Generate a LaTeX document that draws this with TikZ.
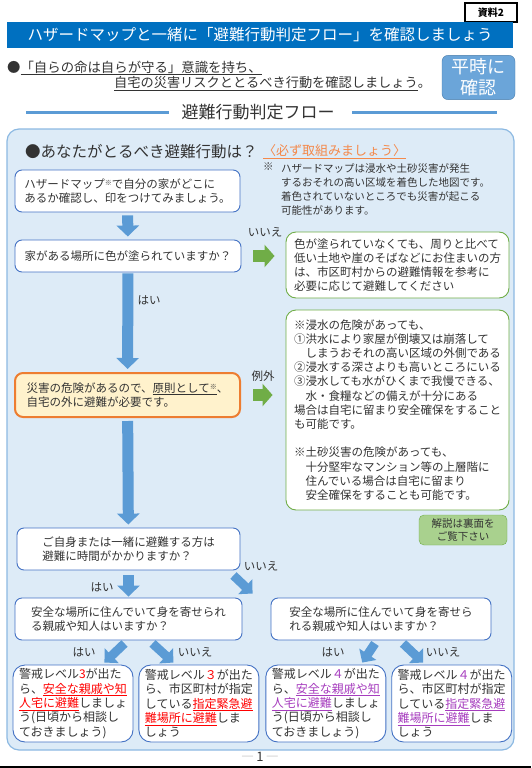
\documentclass[tikz,border=0pt]{standalone}
\usepackage{fontspec}
\setmainfont{Noto Sans CJK JP}
\usepackage{tikz}
\usetikzlibrary{arrows.meta,calc,positioning}
\definecolor{ink}{HTML}{333333}
\definecolor{navy}{HTML}{0070C0}
\definecolor{sky}{HTML}{5B9BD5}
\definecolor{panel}{HTML}{DDEBF7}
\definecolor{rim}{HTML}{4472C4}
\definecolor{leaf}{HTML}{70AD47}
\definecolor{orange}{HTML}{ED7D31}
\definecolor{cream}{HTML}{FFF2CC}
\definecolor{mint}{HTML}{A9D18E}
\definecolor{alert}{HTML}{FF0000}
\definecolor{violet}{HTML}{A63CBE}
\definecolor{tangerine}{HTML}{F4894B}
\newcommand\kome{\raisebox{2.5pt}{\scriptsize ※}}
\newcommand\bodyfont{\fontsize{11.5}{14.2}\selectfont}

\begin{document}
\begin{tikzpicture}[x=1pt,y=-1pt,
  box/.style={draw=rim,fill=white,rounded corners=7pt,line width=0.9pt,align=left,font=\bodyfont,text=ink,inner sep=0pt},
  greenbox/.style={box,draw=leaf,rounded corners=10pt},
  alertbox/.style={box,draw=orange,fill=cream,line width=2pt,rounded corners=8pt},
  levelbox/.style={box,rounded corners=12pt,minimum width=120pt,minimum height=77pt,font=\fontsize{12}{14.3}\selectfont},
  barrow/.style={sky,line width=11pt,-{Triangle[length=11pt,width=22pt]}},
  garrow/.style={leaf,line width=12pt,-{Triangle[length=10pt,width=22pt]}},
  darrow/.style={sky,line width=9pt,-{Triangle[length=10pt,width=20pt]}},
  tag/.style={font=\bodyfont,text=ink},
  rule/.style={sky,line width=3pt}]
\useasboundingbox (0,0) rectangle (531,768);
% header
\node[draw=black,line width=1.3pt,minimum width=52pt,minimum height=19pt,font=\fontsize{10}{12}\selectfont\bfseries] (doc) at (491,12.5) {資料2};
\node[fill=navy,minimum width=506pt,minimum height=26pt,text=white,font=\fontsize{15.5}{18}\selectfont] (title) at (260,35) {ハザードマップと一緒に「避難行動判定フロー」を確認しましょう};
\node[anchor=west,inner sep=0pt,text=ink,font=\fontsize{13.4}{16}\selectfont] (motto) at (7,68) {●\underline{「自らの命は自らが守る」意識を持ち、}};
\node[anchor=west,inner sep=0pt,text=ink,font=\fontsize{13.2}{16}\selectfont] (risk) at (114,84) {\underline{自宅の災害リスクととるべき行動を確認しましょう}。};
\node[fill=sky!90!white,draw=sky!80!black,rounded corners=6pt,minimum width=73pt,minimum height=43pt,text=white,align=center,font=\fontsize{18}{21}\selectfont] (usual) at (478.5,77.5) {平時に\\確認};
\node[font=\fontsize{17}{20}\selectfont,text=ink] (flow) at (258,112) {避難行動判定フロー};
\draw[rule] (26,112) -- ([xshift=-9pt]flow.west);
\draw[rule] ([xshift=14pt]flow.east) -- (497,112);
% panel
\draw[draw=sky!70,fill=panel,line width=1.2pt,rounded corners=12pt] (7,129) rectangle (514,750);
\node[anchor=west,inner sep=0pt,text=ink,font=\fontsize{15.5}{18}\selectfont] (ask) at (25,152) {●あなたがとるべき避難行動は？};
\node[right=5pt of ask,inner sep=0pt,text=tangerine,font=\fontsize{13}{16}\selectfont] (must) {\underline{〈必ず取組みましょう〉}};
\node[anchor=north west,inner sep=0pt,text=ink,font=\fontsize{10.5}{14}\selectfont] (kome) at (263,163) {※};
\node[anchor=north west,inner sep=0pt,align=left,text=ink,font=\fontsize{10.5}{14}\selectfont] (hint) at (281,163) {ハザードマップは浸水や土砂災害が発生\\するおそれの高い区域を着色した地図です。\\着色されていないところでも災害が起こる\\可能性があります。};
% flow boxes
\node[box,minimum width=225pt,minimum height=42pt] (map) at (127.5,191) {ハザードマップ\kome で自分の家がどこに\\あるか確認し、印をつけてみましょう。};
\node[box,minimum width=226pt,minimum height=32pt] (home) at (128,256) {家がある場所に色が塗られていますか？};
\node[greenbox,minimum width=223pt,minimum height=66pt] (nocolor) at (397.5,265) {色が塗られていなくても、周りと比べて\\低い土地や崖のそばなどにお住まいの方\\は、市区町村からの避難情報を参考に\\必要に応じて避難してください};
\node[alertbox,minimum width=225pt,minimum height=44pt] (leave) at (127.5,395) {災害の危険があるので、\underline{原則として\kome}、\\自宅の外に避難が必要です。};
\node[greenbox,minimum width=223pt,minimum height=200pt] (except) at (397.5,410) {※浸水の危険があっても、\\①洪水により家屋が倒壊又は崩落して\\　しまうおそれの高い区域の外側である\\②浸水する深さよりも高いところにいる\\③浸水しても水がひくまで我慢できる、\\　水・食糧などの備えが十分にある\\場合は自宅に留まり安全確保をすること\\も可能です。\\[14.2pt]※土砂災害の危険があっても、\\　十分堅牢なマンション等の上層階に\\　住んでいる場合は自宅に留まり\\　安全確保をすることも可能です。};
\node[draw=leaf,fill=mint,rounded corners=5pt,minimum width=88pt,minimum height=30pt,align=center,inner sep=0pt,text=ink,font=\fontsize{10.5}{13}\selectfont] (back) at (463,530) {解説は裏面を\\ご覧下さい};
\node[box,minimum width=223pt,minimum height=42pt] (time) at (128.5,549) {ご自身または一緒に避難する方は\\避難に時間がかかりますか？};
\node[box,minimum width=227pt,minimum height=42pt] (kin) at (128.5,619) {安全な場所に住んでいて身を寄せられ\\る親戚や知人はいますか？};
\node[box,minimum width=220pt,minimum height=42pt] (kinb) at (381,619) {安全な場所に住んでいて身を寄せら\\れる親戚や知人はいますか？};
% level boxes
\node[levelbox] (lvthreea) at (73,703.5) {警戒レベル{\color{alert}3}が出た\\ら、{\color{alert}\underline{安全な親戚や知}}\\{\color{alert}\underline{人宅に避難}}しましょ\\う(日頃から相談し\\ておきましょう)};
\node[levelbox,right=5pt of lvthreea] (lvthreeb) {警戒レベル{\color{alert}３}が出た\\ら、市区町村が指定\\している{\color{alert}\underline{指定緊急避}}\\{\color{alert}\underline{難場所に避難}}しま\\しょう};
\node[levelbox,right=6pt of lvthreeb] (lvfoura) {警戒レベル{\color{violet}４}が出た\\ら、{\color{violet}\underline{安全な親戚や知}}\\{\color{violet}\underline{人宅に避難}}しましょ\\う(日頃から相談し\\ておきましょう)};
\node[levelbox,right=5pt of lvfoura] (lvfourb) {警戒レベル{\color{violet}４}が出た\\ら、市区町村が指定\\している{\color{violet}\underline{指定緊急避}}\\{\color{violet}\underline{難場所に避難}}しま\\しょう};
% arrows
\draw[barrow,shorten <=3pt,shorten >=3pt] (map) -- (home);
\draw[barrow,shorten <=1pt,shorten >=3pt] (home) -- (leave);
\draw[barrow,shorten <=3pt,shorten >=3pt] (leave) -- (time);
\draw[barrow,shorten <=5pt,shorten >=1pt] (time) -- (kin);
\draw[garrow,shorten <=12pt,shorten >=11pt] (home.east) -- (home.east -| nocolor.west);
\draw[garrow,shorten <=12pt,shorten >=13pt] (leave.east) -- (leave.east -| except.west);
\draw[darrow] ($(time.south east)+(-7,5)$) -- ($(kinb.north west)+(-18,-4)$);
\draw[darrow] ($(kin.south)+(-4,3)$) -- ($(lvthreea.north east)+(-29,-2)$);
\draw[darrow] ($(kin.south)+(24,3)$) -- ($(lvthreeb.north west)+(35,-2)$);
\draw[darrow] ($(kinb.south)+(-6,3)$) -- ($(lvfoura.north east)+(-24,-2)$);
\draw[darrow] ($(kinb.south)+(22,3)$) -- ($(lvfourb.north west)+(32,-2)$);
% answers
\node[tag] (noa) at (265,232) {いいえ};
\node[tag] (yesa) at (149,300) {はい};
\node[tag] (other) at (263,376) {例外};
\node[tag] (nob) at (261,566) {いいえ};
\node[tag] (yesb) at (102,587) {はい};
\foreach \n/\x/\t in {yesc/84/はい,noc/195/いいえ,yesd/333/はい,nod/443/いいえ}
  \node[tag] (\n) at (\x,652) {\t};
% footer
\node[text=ink,font=\fontsize{13}{15}\selectfont] (page) at (260,757) {{\color{gray!60}―}\,1\,{\color{gray!60}―}};
\draw[line width=2pt] (0,766.5) -- (531,766.5);
\end{tikzpicture}
\end{document}
